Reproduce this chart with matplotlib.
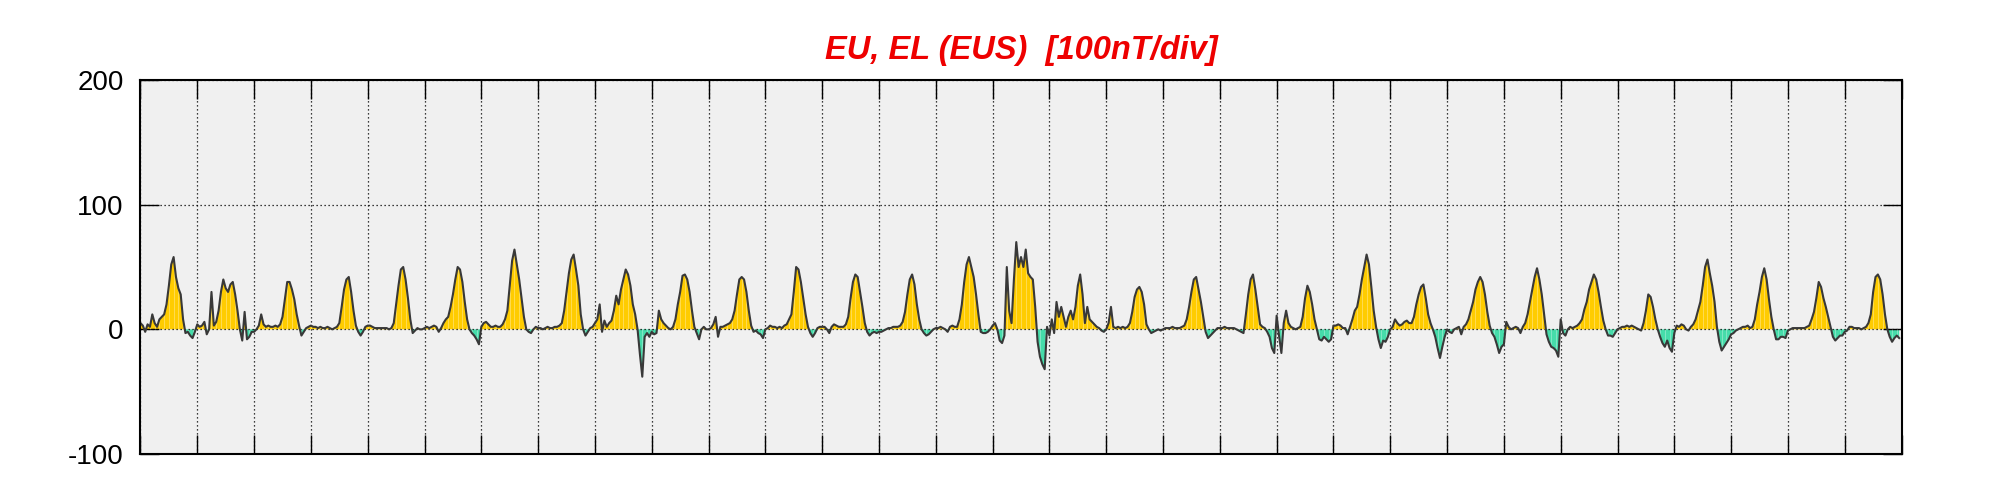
import matplotlib
matplotlib.use('Agg')
import matplotlib.pyplot as plt
import numpy as np

plt.rcParams['font.family'] = ['Liberation Sans', 'DejaVu Sans']
plt.rcParams['axes.unicode_minus'] = False

# Hourly EU/EL values (nT), one list per day (31 days)
d01 = [5, 3, -2, 4, 2, 12, 5, 2, 8, 10, 12, 20, 35, 52, 58, 42, 33, 28, 8, -3, -2, -5, -7, -2]
d02 = [4, 2, 3, 6, -4, 0, 30, 3, 6, 15, 30, 40, 33, 30, 36, 38, 28, 15, 0, -9, 14, -8, -6, -2]
d03 = [-2, 0, 3, 12, 4, 2, 3, 2, 2, 3, 2, 4, 10, 24, 38, 38, 32, 24, 12, 3, -5, -2, 1, 2]
d04 = [3, 2, 2, 1, 2, 1, 1, 2, 1, 0, 1, 2, 5, 18, 32, 40, 42, 30, 15, 3, -2, -5, -2, 2]
d05 = [3, 3, 2, 1, 1, 1, 1, 1, 1, 0, 1, 5, 20, 35, 48, 50, 40, 25, 8, -3, -1, 1, 0, 0]
d06 = [1, 2, 1, 2, 3, 2, -2, 1, 5, 8, 10, 18, 28, 40, 50, 48, 38, 22, 8, 0, -3, -5, -8, -12]
d07 = [2, 5, 6, 4, 2, 2, 3, 2, 2, 4, 8, 15, 35, 55, 64, 52, 40, 25, 10, 0, -2, -3, 0, 2]
d08 = [1, 1, 0, 1, 2, 1, 1, 2, 2, 3, 5, 15, 30, 45, 56, 60, 48, 35, 12, 0, -5, -2, 1, 2]
d09 = [5, 8, 20, -2, 7, 2, 5, 7, 15, 27, 20, 32, 40, 48, 44, 35, 20, 12, 0, -20, -38, -6, -3, -6]
d10 = [-2, -4, -3, 15, 8, 5, 3, 1, 0, 2, 8, 20, 30, 43, 44, 40, 30, 15, 2, -3, -8, 0, 2, 0]
d11 = [0, 1, 4, 10, -6, 2, 2, 3, 4, 5, 8, 15, 28, 40, 42, 40, 30, 15, 3, -2, -1, -3, -4, -7]
d12 = [0, 1, 3, 2, 2, 1, 2, 1, 3, 4, 8, 12, 30, 50, 48, 38, 25, 12, 2, -3, -6, -3, 1, 2]
d13 = [2, 2, 0, -3, 2, 4, 3, 2, 2, 2, 4, 10, 25, 38, 44, 42, 30, 18, 5, -2, -5, -3, -2, -3]
d14 = [-2, -2, -1, 0, 1, 1, 2, 2, 2, 3, 6, 14, 28, 40, 44, 36, 20, 8, 0, -3, -5, -4, -2, 0]
d15 = [1, 1, 2, 1, 0, -2, 2, 3, 2, 2, 8, 20, 38, 52, 58, 50, 42, 28, 12, -2, -3, -3, -2, 0]
d16 = [3, 5, 0, -9, -11, -5, 50, 15, 5, 40, 70, 50, 58, 50, 64, 45, 42, 40, 18, -10, -22, -28, -32, 2]
d17 = [-5, 8, -3, 22, 10, 18, 10, 2, 10, 15, 8, 18, 35, 44, 28, 5, 18, 8, 6, 4, 2, 1, -1, -2]
d18 = [0, 5, 18, 2, 1, 2, 1, 2, 1, 2, 5, 14, 26, 32, 34, 30, 20, 4, 0, -3, -2, -1, 0, -1]
d19 = [0, 1, 1, 1, 2, 1, 1, 1, 2, 3, 8, 18, 30, 40, 42, 32, 22, 10, -2, -7, -5, -3, -1, 1]
d20 = [1, 1, 2, 1, 1, 1, 1, 0, -1, -2, -3, 12, 28, 40, 44, 32, 18, 4, 2, 1, -2, -6, -15, -19]
d21 = [11, -5, -19, 5, 15, 5, 2, 1, 0, 1, 2, 10, 25, 35, 30, 20, 8, 0, -8, -9, -6, -8, -10, -8]
d22 = [3, 3, 4, 3, 1, 1, -4, 2, 8, 15, 18, 28, 40, 50, 60, 52, 34, 15, 2, -8, -15, -9, -10, -6]
d23 = [0, 2, 8, 5, 3, 4, 6, 7, 5, 5, 10, 20, 28, 34, 36, 25, 12, 5, 0, -6, -15, -23, -14, -6]
d24 = [0, -2, -3, 0, 1, 2, -4, 2, 4, 8, 15, 22, 32, 38, 42, 38, 28, 14, 3, -3, -6, -12, -19, -14]
d25 = [-12, 6, 2, 0, 1, 2, 1, -3, 2, 5, 12, 22, 32, 42, 49, 40, 28, 12, -4, -10, -14, -15, -17, -22]
d26 = [8, -3, -5, 0, 2, 1, 2, 3, 5, 8, 16, 22, 32, 38, 44, 40, 30, 18, 7, 0, -5, -5, -6, -3]
d27 = [0, 1, 2, 2, 3, 2, 3, 2, 1, 0, -1, 5, 15, 28, 26, 18, 8, 0, -6, -11, -14, -9, -15, -18]
d28 = [-3, 3, 2, 4, 3, 0, -1, 2, 4, 8, 15, 22, 35, 50, 56, 45, 35, 22, 2, -10, -17, -14, -11, -8]
d29 = [-4, -3, -1, 0, 1, 2, 2, 3, 1, 2, 8, 20, 30, 42, 49, 40, 24, 10, 0, -8, -8, -6, -6, -7]
d30 = [-1, 0, 1, 1, 1, 1, 1, 1, 2, 3, 8, 14, 25, 38, 34, 25, 18, 10, 2, -6, -9, -7, -5, -5]
d31 = [-2, -1, 2, 2, 1, 1, 1, 0, 1, 2, 5, 12, 30, 42, 44, 40, 28, 12, 0, -6, -10, -7, -5, -7]

days = [d01, d02, d03, d04, d05, d06, d07, d08, d09, d10, d11, d12, d13, d14, d15, d16,
        d17, d18, d19, d20, d21, d22, d23, d24, d25, d26, d27, d28, d29, d30, d31]

eu = np.concatenate([np.array(d, dtype=float) for d in days])
t = np.arange(len(eu)) / 24.0
n_days = len(days)

fig = plt.figure(figsize=(20.01, 5.0), dpi=100)
ax = fig.add_axes([0.0702, 0.092, 0.8801, 0.748])
ax.set_facecolor('#f0f0f0')

ax.fill_between(t, 0, eu, where=eu >= 0, interpolate=True, color='#ffcc00', linewidth=0)
ax.fill_between(t, 0, eu, where=eu <= 0, interpolate=True, color='#46dcaa', linewidth=0)
# faint white stripes inside the filled area (bar-style fill of the original)
ax.vlines(t[::2], 0, eu[::2], color='white', linewidth=0.5, alpha=0.45)
ax.plot(t, eu, color='#383838', linewidth=1.5)

ax.set_xlim(0, n_days)
ax.set_ylim(-100, 200)
ax.set_xticks(np.arange(0, n_days + 1))
ax.set_xticklabels([])
ax.set_yticks([-100, 0, 100, 200])
ax.set_yticklabels(['-100', '0', '100', '200'])

ax.tick_params(axis='x', direction='in', length=14, width=1.0, top=True, bottom=True)
ax.tick_params(axis='y', direction='in', length=14, width=1.0, left=True, right=True,
               labelsize=20, pad=12)
ax.grid(True, linestyle=(0, (1, 2.2)), color='black', linewidth=0.9)
for s in ax.spines.values():
    s.set_linewidth(1.5)

ax.set_title('EU, EL (EUS)  [100nT/div]', color='#ee0000', fontsize=23.5,
             fontweight='bold', fontstyle='italic', pad=15)

fig.savefig('out.png', dpi=100)
